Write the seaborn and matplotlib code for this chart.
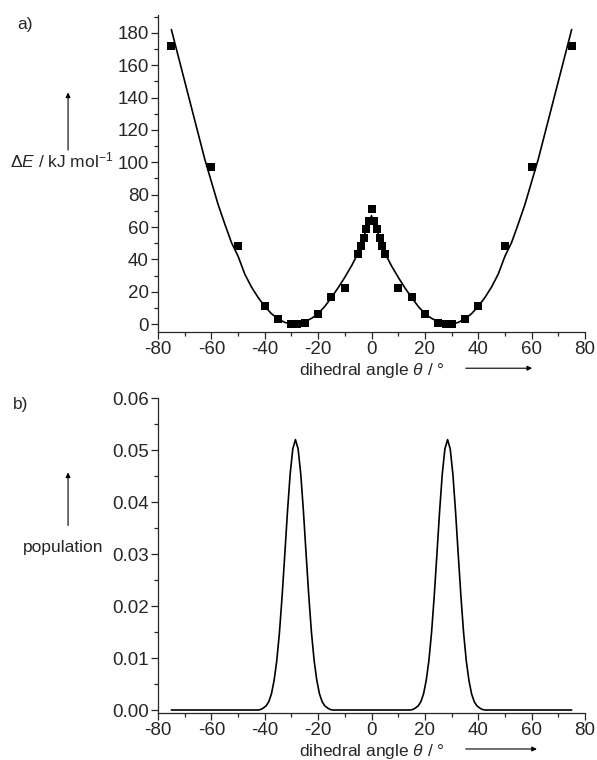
import numpy as np
import pandas as pd
import matplotlib
matplotlib.use('Agg')
import matplotlib.pyplot as plt
import seaborn as sns

# computed points (squares)
angle_pts = [-75, -60, -50, -40, -35, -30, -28, -25, -20, -15, -10, -5, -4, -3, -2, -1, 0,
             1, 2, 3, 4, 5, 10, 15, 20, 25, 28, 30, 35, 40, 50, 60, 75]
energy_pts = [172, 97, 48, 11, 3, 0, 0, 1, 6, 17, 22.5, 43.5, 48, 53, 58.5, 64, 71,
              64, 58.5, 53, 48, 43.5, 22.5, 17, 6, 1, 0, 0, 3, 11, 48, 97, 172]

# fitted curve
fit_angle = [-75, -72.5, -70, -67.5, -65, -62.5, -60, -57.5, -55, -52.5, -50, -47.5, -45, -42.5,
             -40, -37.5, -35, -32.5, -30, -29, -27.5, -25, -22.5, -20, -17.5, -15, -12.5, -10,
             -7.5, -5, -2.5, -1, 0,
             1, 2.5, 5, 7.5, 10, 12.5, 15, 17.5, 20, 22.5, 25, 27.5, 29, 30, 32.5, 35, 37.5,
             40, 42.5, 45, 47.5, 50, 52.5, 55, 57.5, 60, 62.5, 65, 67.5, 70, 72.5, 75]
fit_energy = [182, 166, 150, 134, 118, 102, 88, 74, 62, 50.5, 42, 31, 23, 16.5,
              11, 6.5, 3.3, 1.1, 0.1, 0, 0.2, 1.5, 3.6, 6.5, 11, 16.5, 22.5, 29,
              36, 44, 56, 62, 67,
              62, 56, 44, 36, 29, 22.5, 16.5, 11, 6.5, 3.6, 1.5, 0.2, 0, 0.1, 1.1, 3.3, 6.5,
              11, 16.5, 23, 31, 42, 50.5, 62, 74, 88, 102, 118, 134, 150, 166, 182]

# population distribution
pop_angle = [-75, -50, -42.5, -41.5, -40.5, -39.5, -38.5, -37.5, -36.5, -35.5, -34.5, -33.5,
             -32.5, -31.5, -30.5, -29.5, -28.5, -27.5, -26.5, -25.5, -24.5, -23.5, -22.5,
             -21.5, -20.5, -19.5, -18.5, -17.5, -16.5, -15.5, -14.5, -10, 0,
             10, 14.5, 15.5, 16.5, 17.5, 18.5, 19.5, 20.5, 21.5, 22.5, 23.5, 24.5, 25.5,
             26.5, 27.5, 28.5, 29.5, 30.5, 31.5, 32.5, 33.5, 34.5, 35.5, 36.5, 37.5, 38.5,
             39.5, 40.5, 41.5, 42.5, 50, 75]
pop_value = [0, 0, 0, 0.0001, 0.0004, 0.0008, 0.0016, 0.0031, 0.0057, 0.0095, 0.0149, 0.0219,
             0.0299, 0.0381, 0.0453, 0.0502, 0.0520, 0.0502, 0.0453, 0.0381, 0.0299, 0.0219, 0.0149,
             0.0095, 0.0057, 0.0031, 0.0016, 0.0008, 0.0004, 0.0001, 0, 0, 0,
             0, 0, 0.0001, 0.0004, 0.0008, 0.0016, 0.0031, 0.0057, 0.0095, 0.0149, 0.0219,
             0.0299, 0.0381, 0.0453, 0.0502, 0.0520, 0.0502, 0.0453, 0.0381, 0.0299, 0.0219,
             0.0149, 0.0095, 0.0057, 0.0031, 0.0016, 0.0008, 0.0004, 0.0001, 0, 0, 0]

pts = pd.DataFrame({'angle': angle_pts, 'energy': energy_pts})
fit = pd.DataFrame({'angle': fit_angle, 'energy': fit_energy})
pop = pd.DataFrame({'angle': pop_angle, 'population': pop_value})

sns.set_style('ticks', {'axes.facecolor': 'white', 'figure.facecolor': 'white'})
plt.rcParams['font.family'] = ['Liberation Sans', 'DejaVu Sans']
plt.rcParams['mathtext.fontset'] = 'custom'
plt.rcParams['mathtext.rm'] = 'Liberation Sans'
plt.rcParams['mathtext.it'] = 'Liberation Sans:italic'
plt.rcParams['axes.unicode_minus'] = False
plt.rcParams['axes.linewidth'] = 0.9
fs = 12.5
tfs = 13.5

fig = plt.figure(figsize=(5.97, 7.6), dpi=100)
ax1 = fig.add_axes([0.2647, 0.5632, 0.7152, 0.4171])
ax2 = fig.add_axes([0.2647, 0.0618, 0.7152, 0.4145])

sns.lineplot(data=fit, x='angle', y='energy', ax=ax1, color='black', linewidth=1.2, sort=False)
sns.scatterplot(data=pts, x='angle', y='energy', ax=ax1, color='black', marker='s', s=26,
                edgecolor='black', linewidth=0, zorder=3)
sns.lineplot(data=pop, x='angle', y='population', ax=ax2, color='black', linewidth=1.2, sort=False)

ax1.set_xlim(-80, 80)
ax1.set_ylim(-4.8, 191)
ax1.set_xticks(np.arange(-80, 81, 20))
ax1.set_xticks(np.arange(-70, 80, 20), minor=True)
ax1.set_yticks(np.arange(0, 181, 20))
ax1.set_yticks(np.arange(10, 191, 20), minor=True)

ax2.set_xlim(-80, 80)
ax2.set_ylim(-0.00058, 0.06)
ax2.set_xticks(np.arange(-80, 81, 20))
ax2.set_xticks(np.arange(-70, 80, 20), minor=True)
ax2.set_yticks([0, 0.01, 0.02, 0.03, 0.04, 0.05, 0.06])
ax2.set_yticklabels(['0.00', '0.01', '0.02', '0.03', '0.04', '0.05', '0.06'])
ax2.set_yticks([0.005, 0.015, 0.025, 0.035, 0.045, 0.055], minor=True)

for ax in (ax1, ax2):
    sns.despine(ax=ax)
    ax.tick_params(axis='both', which='major', length=5, width=0.9, labelsize=tfs, pad=1.5)
    ax.tick_params(axis='both', which='minor', length=3, width=0.9)
    ax.set_ylabel('')
    ax.set_xlabel('dihedral angle $\\theta$ / °', fontsize=fs, labelpad=2)

fig.text(0.042, 0.968, 'a)', fontsize=fs, ha='center', va='center')
fig.text(0.034, 0.468, 'b)', fontsize=fs, ha='center', va='center')

fig.text(0.104, 0.789, '$\\Delta E$ / kJ mol$^{-1}$', fontsize=fs, ha='center', va='center')
fig.text(0.1055, 0.280, 'population', fontsize=fs, ha='center', va='center')

arrow = dict(arrowstyle='-|>', color='black', lw=0.8, mutation_scale=7)
fig.add_artist(matplotlib.patches.FancyArrowPatch((0.114, 0.799), (0.114, 0.882),
               transform=fig.transFigure, **arrow))
fig.add_artist(matplotlib.patches.FancyArrowPatch((0.114, 0.305), (0.114, 0.382),
               transform=fig.transFigure, **arrow))
fig.add_artist(matplotlib.patches.FancyArrowPatch((0.7755, 0.5155), (0.896, 0.5155),
               transform=fig.transFigure, **arrow))
fig.add_artist(matplotlib.patches.FancyArrowPatch((0.7755, 0.0145), (0.904, 0.0145),
               transform=fig.transFigure, **arrow))

fig.savefig('out.png', dpi=100)
